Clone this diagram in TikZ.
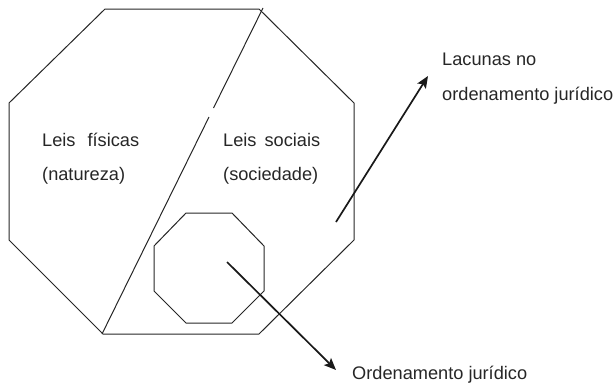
\documentclass[tikz,border=0pt]{standalone}
\usepackage{fontspec}
\setmainfont{Liberation Sans}
\usetikzlibrary{arrows.meta}
\tikzset{
  outline/.style={draw=black!85, line width=1pt, line join=miter},
  pointer/.style={draw=black!90, line width=1.7pt, -{Stealth[length=12pt,width=10pt,inset=2.5pt]}},
  lbl/.style={anchor=base west, inner sep=0pt, text=black!85, font=\fontsize{18.2}{20}\selectfont}
}
\begin{document}
\begin{tikzpicture}[x=1pt,y=-1pt]
\useasboundingbox (0,0) rectangle (613,383);
% large octagon
\coordinate (L1) at (105,9);
\coordinate (L2) at (259,9);
\coordinate (L3) at (354,103);
\coordinate (L4) at (354,240);
\coordinate (L5) at (259,334);
\coordinate (L6) at (103,334);
\coordinate (L7) at (9,240);
\coordinate (L8) at (9,103);
\draw[outline] (L1) -- (L2) -- (L3) -- (L4) -- (L5) -- (L6) -- (L7) -- (L8) -- cycle;
% dividing line with a small gap
\coordinate (D1) at (263,8);
\coordinate (D2) at (213.5,108);
\coordinate (D3) at (209,117);
\coordinate (D4) at (102,334);
\draw[outline] (D1) -- (D2);
\draw[outline] (D3) -- (D4);
% small octagon
\coordinate (S1) at (186,213);
\coordinate (S2) at (232,213);
\coordinate (S3) at (264,246);
\coordinate (S4) at (264,291);
\coordinate (S5) at (232,323);
\coordinate (S6) at (186,323);
\coordinate (S7) at (154,291);
\coordinate (S8) at (154,246);
\draw[outline] (S1) -- (S2) -- (S3) -- (S4) -- (S5) -- (S6) -- (S7) -- (S8) -- cycle;
% texts
\node[lbl] (fis1) at (42,146) {Leis\hspace{12pt}físicas};
\node[lbl] (fis2) at (42,180) {(natureza)};
\node[lbl] (soc1) at (223,146) {Leis\hspace{8pt}sociais};
\node[lbl] (soc2) at (223,180) {(sociedade)};
\node[lbl] (lac1) at (442,65) {Lacunas no};
\node[lbl] (lac2) at (442,100) {ordenamento jurídico};
\node[lbl] (ord) at (352,379) {Ordenamento jurídico};
% arrows
\coordinate (A1s) at (336,222);
\coordinate (A1e) at (428,76);
\coordinate (A2s) at (227,262);
\coordinate (A2e) at (336,370);
\draw[pointer] (A1s) -- (A1e);
\draw[pointer] (A2s) -- (A2e);
\end{tikzpicture}
\end{document}
